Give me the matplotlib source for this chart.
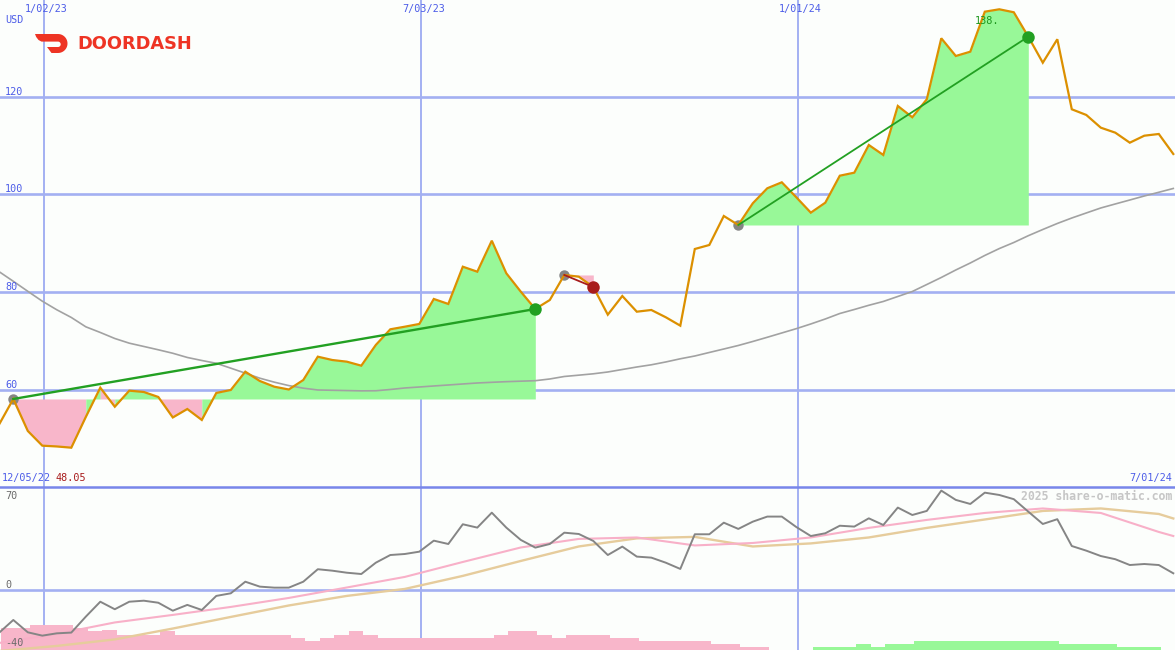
import numpy as np
import pandas as pd
import matplotlib
matplotlib.use('Agg')
import matplotlib.pyplot as plt
import matplotlib.dates as mdates
from matplotlib.path import Path
from matplotlib.patches import PathPatch
from matplotlib.lines import Line2D

# ---------------- data ----------------
dates = pd.date_range('2022-12-11', periods=82, freq='7D')

price = [52.84, 58.16, 51.62, 48.61, 48.45, 48.20, 54.48, 60.47, 56.58, 59.86,
         59.59, 58.57, 54.38, 56.11, 53.87, 59.39, 60.00, 63.74, 61.84, 60.67,
         60.10, 62.04, 66.81, 66.13, 65.79, 64.97, 69.20, 72.41, 72.94, 73.50,
         78.61, 77.59, 85.21, 84.19, 90.53, 83.87, 80.10, 76.56, 78.40, 83.52,
         83.17, 81.06, 75.40, 79.22, 76.01, 76.36, 74.87, 73.15, 88.83, 89.65,
         95.58, 93.74, 98.18, 101.25, 102.47, 99.41, 96.26, 98.30, 103.82, 104.44,
         110.10, 108.06, 118.08, 115.77, 119.45, 131.92, 128.30, 129.18, 137.36, 137.85,
         137.24, 132.25, 126.93, 131.72, 117.40, 116.24, 113.64, 112.62, 110.57, 112.00,
         112.35, 108.26]

moving_avg = [84.24, 82.23, 80.18, 78.16, 76.40, 74.83, 72.92, 71.76, 70.53, 69.57,
              68.90, 68.22, 67.51, 66.65, 66.03, 65.46, 64.46, 63.44, 62.41, 61.60,
              60.90, 60.37, 60.00, 59.94, 59.88, 59.82, 59.84, 60.10, 60.41, 60.61,
              60.82, 61.02, 61.23, 61.43, 61.57, 61.70, 61.80, 61.90, 62.25, 62.76,
              63.03, 63.31, 63.68, 64.19, 64.70, 65.15, 65.73, 66.38, 66.95, 67.67,
              68.38, 69.10, 69.92, 70.78, 71.66, 72.54, 73.50, 74.52, 75.64, 76.46,
              77.32, 78.10, 79.12, 80.14, 81.57, 83.01, 84.54, 85.97, 87.51, 88.92,
              90.16, 91.55, 92.82, 94.05, 95.17, 96.20, 97.22, 98.04, 98.85, 99.67,
              100.43, 101.21]

oscillator = [-29.7, -20.7, -29.2, -31.5, -29.9, -29.4, -18.4, -8.1, -13.3, -8.1,
              -7.4, -8.8, -14.3, -10.3, -13.8, -4.1, -2.3, 5.7, 2.3, 1.6,
              1.6, 5.7, 14.3, 13.3, 11.9, 11.0, 18.8, 24.1, 24.8, 26.4,
              34.0, 31.7, 45.3, 43.0, 53.3, 43.0, 34.5, 29.2, 31.7, 39.5,
              38.6, 33.8, 24.1, 29.9, 23.0, 22.3, 18.8, 14.5, 38.4, 38.4,
              46.4, 42.1, 47.1, 50.6, 50.6, 43.4, 37.2, 39.1, 44.3, 43.7,
              49.4, 44.8, 56.8, 51.7, 54.5, 68.5, 62.1, 59.3, 67.1, 65.5,
              62.6, 54.0, 45.5, 48.8, 30.3, 27.1, 23.4, 21.2, 17.2, 17.9,
              17.2, 11.5]

signal_dates = list(dates[::4]) + [dates[-1]]
signal_fast = [-36.6, -30.3, -22.4, -17.2, -11.7, -5.5, 1.7, 9.0, 19.3, 29.3, 35.2,
               36.2, 30.7, 32.4, 36.2, 42.8, 48.3, 53.1, 56.2, 53.1, 40.0, 37.2]
signal_slow = [-42.1, -38.6, -34.1, -26.6, -18.6, -10.7, -4.1, 0.7, 9.7, 20.0, 30.0,
               35.6, 36.6, 30.0, 32.1, 36.2, 42.8, 48.6, 54.5, 56.2, 52.4, 49.3]

histogram = [-15.0, -15.0, -17.2, -17.2, -17.2, -15.0, -13.1, -13.8, -10.3, -10.3,
             -10.3, -13.1, -10.3, -10.3, -10.3, -10.3, -10.3, -10.3, -10.3, -10.3,
             -8.1, -6.2, -8.1, -10.3, -13.1, -10.3, -8.1, -8.1, -8.1, -8.1,
             -8.1, -8.1, -8.1, -8.1, -10.3, -13.1, -13.1, -10.3, -8.1, -10.3,
             -10.3, -10.3, -8.1, -8.1, -6.2, -6.2, -6.2, -6.2, -6.2, -4.1,
             -4.1, -2.3, -2.3, 0.0, 0.0, 0.0, 1.9, 1.9, 1.9, 4.1,
             1.9, 4.1, 4.1, 6.2, 6.2, 6.2, 6.2, 6.2, 6.2, 6.2,
             6.2, 6.2, 6.2, 4.1, 4.1, 4.1, 4.1, 1.9, 1.9, 1.9,
             0.0, 0.0]

trends = [('2022-12-18', '2023-08-27'),
          ('2023-09-10', '2023-09-24'),
          ('2023-12-03', '2024-04-21')]

tick_dates = ['2023-01-02', '2023-07-03', '2024-01-01']
tick_labels = ['1/02/23', '7/03/23', '1/01/24']
price_ticks = [60, 80, 100, 120]
osc_labels = [70, 0, -40]
first_label = '12/05/22'
last_label = '7/01/24'
min_label = '48.05'
max_label = '138.'
currency = 'USD'

# ---------------- style ----------------
bg = '#fcfefc'
gridc = '#a3b0f2'
blue_txt = '#4c5ce8'
orange = '#dc9000'
green_fill = '#98f898'
pink_fill = '#f8b6ca'
green_line = '#22a022'
red_line = '#a81c1c'
mono = 'DejaVu Sans Mono'

W, H = 1175.0, 650.0
fig = plt.figure(figsize=(W / 100, H / 100), dpi=100)
fig.patch.set_facecolor(bg)

split = 487.0
ax = fig.add_axes([0, (H - split) / H, 1, split / H])
ax2 = fig.add_axes([0, 0, 1, (H - split) / H])

x = mdates.date2num(dates.to_pydatetime())
xl, xr = x[0] + 0.58, x[-1] + 0.82
tick_x = mdates.date2num(pd.to_datetime(tick_dates).to_pydatetime())

for a in (ax, ax2):
    a.set_facecolor(bg)
    for s in a.spines.values():
        s.set_visible(False)
    a.set_axisbelow(True)
    a.set_xlim(xl, xr)
    a.set_xticks(tick_x)
    a.tick_params(length=0, labelleft=False, labelbottom=False)
    a.grid(True, axis='x', color=gridc, lw=1.4)

# ---------------- price panel ----------------
ax.set_ylim(40.16, 139.75)
ax.set_yticks(price_ticks)
ax.grid(True, axis='y', color=gridc, lw=1.9)

price_a = np.array(price)
for (d0, d1) in trends:
    i0 = int(np.where(dates == pd.Timestamp(d0))[0][0])
    i1 = int(np.where(dates == pd.Timestamp(d1))[0][0])
    base = price_a[i0]
    cols = [green_fill if price_a[j + 1] > base else pink_fill for j in range(i0, i1)]
    j = i0
    while j < i1:
        c = cols[j - i0]
        k = j
        while k + 1 < i1 and cols[k + 1 - i0] == c:
            k += 1
        ax.fill_between(x[j:k + 2], base, price_a[j:k + 2], color=c, lw=0, zorder=1)
        j = k + 1

ax.plot(x, moving_avg, color='#a2a2a2', lw=1.2, zorder=2)

for (d0, d1) in trends:
    i0 = int(np.where(dates == pd.Timestamp(d0))[0][0])
    ax.plot(x[i0], price_a[i0], 'o', color='#858585', ms=7.5, mec='none', zorder=3)

ax.plot(x, price, color=orange, lw=1.6, zorder=4, solid_joinstyle='miter')

for n, (d0, d1) in enumerate(trends):
    i0 = int(np.where(dates == pd.Timestamp(d0))[0][0])
    i1 = int(np.where(dates == pd.Timestamp(d1))[0][0])
    up = price_a[i1] > price_a[i0]
    c = green_line if up else red_line
    lw = 1.7 if n == 0 else 1.3
    ax.plot([x[i0], x[i1]], [price_a[i0], price_a[i1]], color=c, lw=lw, zorder=5)
    ax.plot(x[i1], price_a[i1], 'o', color=c, ms=9, mec='none', zorder=6)

imax = int(np.argmax(price_a))
ax.annotate(max_label, xy=(x[imax], price_a[imax]), xytext=(-12, -12),
            textcoords='offset pixels', ha='center', va='center',
            color='#1c961c', fontsize=7.4, family=mono, zorder=7)

for tx, tl in zip(tick_x, tick_labels):
    ax.annotate(tl, xy=(tx, 1), xycoords=('data', 'axes fraction'),
                xytext=(2, -9), textcoords='offset pixels', ha='center', va='center',
                color=blue_txt, fontsize=7.3, family=mono)

for v in price_ticks:
    ax.annotate(str(v), xy=(0, v), xycoords=('axes fraction', 'data'),
                xytext=(5, 2), textcoords='offset pixels', ha='left', va='baseline',
                color=blue_txt, fontsize=7.3, family=mono)

ax.annotate(currency, xy=(0, 1), xycoords='axes fraction', xytext=(5, -20),
            textcoords='offset pixels', ha='left', va='center',
            color=blue_txt, fontsize=7.3, family=mono)
ax.annotate(first_label, xy=(0, 0), xycoords='axes fraction', xytext=(2, 9),
            textcoords='offset pixels', ha='left', va='center',
            color=blue_txt, fontsize=7.3, family=mono)
ax.annotate(min_label, xy=(0, 0), xycoords='axes fraction', xytext=(55, 9),
            textcoords='offset pixels', ha='left', va='center',
            color=red_line, fontsize=7.3, family=mono)
ax.annotate(last_label, xy=(1, 0), xycoords='axes fraction', xytext=(-3, 9),
            textcoords='offset pixels', ha='right', va='center',
            color=blue_txt, fontsize=7.3, family=mono)

# ---------------- oscillator panel ----------------
ax2.set_ylim(-41.4, 71.0)
ax2.set_yticks([0])
ax2.grid(True, axis='y', color=gridc, lw=1.9)

hist_a = np.array(histogram)
ylow = -41.4
bar_cols = [pink_fill if h < 0 else green_fill for h in hist_a]
ax2.bar(x + 1, np.abs(hist_a), width=7, bottom=ylow, align='edge',
        color=bar_cols, lw=0, zorder=1)

sx = mdates.date2num(pd.DatetimeIndex(signal_dates).to_pydatetime())
ax2.plot(sx, signal_slow, color='#e6cc9c', lw=1.7, zorder=2)
ax2.plot(sx, signal_fast, color='#f8b0c8', lw=1.5, zorder=3)
ax2.plot(x, oscillator, color='#858585', lw=1.4, zorder=4)

offs = {70: (5, -8, 'center'), 0: (5, 2, 'baseline'), -40: (5, 2, 'baseline')}
for v in osc_labels:
    dx, dy, va = offs[v]
    ax2.annotate(str(v), xy=(0, v), xycoords=('axes fraction', 'data'),
                 xytext=(dx, dy), textcoords='offset pixels', ha='left', va=va,
                 color='#6a6a6a', fontsize=7.3, family=mono)

ax2.annotate('2025 share-o-matic.com', xy=(1, 1), xycoords='axes fraction',
             xytext=(-3, -9), textcoords='offset pixels', ha='right', va='center',
             color='#c6c6c6', fontsize=8.3, family=mono, fontweight='bold', zorder=6)

# separator line between panels
fig.add_artist(Line2D([0, 1], [(H - split) / H + 0.5 / H] * 2, transform=fig.transFigure,
                      color='#7886ea', lw=1.8))

# ---------------- logo ----------------
lax = fig.add_axes([0, 0, 1, 1], zorder=10)
lax.set_xlim(0, W)
lax.set_ylim(H, 0)
lax.axis('off')


def arc(cx, cy, r, a0, a1, n=24):
    t = np.radians(np.linspace(a0, a1, n))
    return np.c_[cx + r * np.cos(t), cy + r * np.sin(t)]


pts = np.vstack([
    [[35.0, 34.0]],
    arc(58.0, 43.5, 9.5, -90, 90),
    [[51.5, 53.0], [47.0, 47.0]],
    arc(58.0, 44.3, 2.7, 90, -90),
    [[41.5, 41.6], [38.5, 40.0], [36.2, 37.0]],
])
codes = [Path.MOVETO] + [Path.LINETO] * (len(pts) - 1)
pts = np.vstack([pts, pts[:1]])
codes.append(Path.CLOSEPOLY)
lax.add_patch(PathPatch(Path(pts, codes), facecolor='#ee3424', edgecolor='none'))
lax.text(77, 44, 'DOORDASH', color='#ee3424', fontsize=12.8, fontweight='bold',
         family='DejaVu Sans', ha='left', va='center')

fig.savefig('out.png', dpi=100, facecolor=bg)
